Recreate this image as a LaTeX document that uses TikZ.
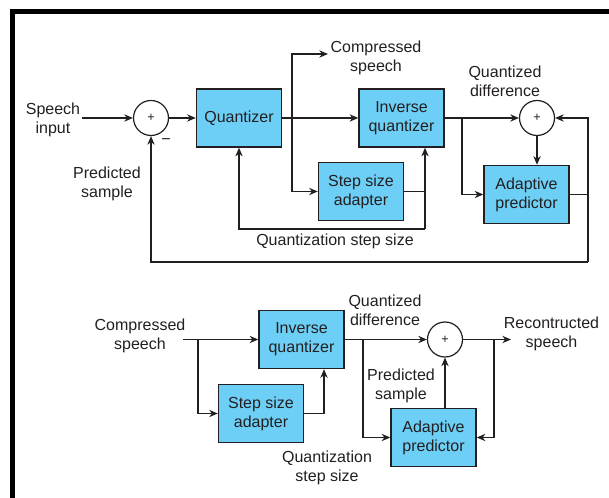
\documentclass[tikz,border=0pt]{standalone}
\usepackage{fontspec}
\setmainfont{Liberation Sans}
\usetikzlibrary{arrows.meta, positioning}
\definecolor{boxblue}{RGB}{110,207,246}
\definecolor{inkgray}{RGB}{35,31,32}

\begin{document}
\begin{tikzpicture}[x=0.75pt, y=-0.75pt,
		block/.style={draw=inkgray, fill=boxblue, line width=1.1pt,
			minimum width=63.75pt, minimum height=43.5pt, align=center, inner sep=0pt},
		adder/.style={draw=inkgray, circle, line width=0.9pt, minimum size=26.25pt,
			inner sep=0pt, font=\fontsize{9.5}{10}\selectfont},
		lbl/.style={align=center, inner sep=1.5pt, yshift=-1.2pt},
		arrow/.style={-{Stealth[length=6.5pt, width=5.5pt]}, line width=0.9pt, draw=inkgray},
		wire/.style={line width=0.9pt, draw=inkgray},
		font=\fontsize{12}{14.4}\selectfont, text=inkgray
	]
		\useasboundingbox (0,0) rectangle (609,498);
		\draw[line width=3.75pt, black] (12.5,498) -- (12.5,11.5) -- (609,11.5);

		% encoder
		\node[lbl] (spin) at (53,118) {Speech\\input};
		\node[adder] (sum1) at (151,118) {+};
		\node[block] (quant) at (239,118) {Quantizer};
		\node[block] (invq) at (401.5,118) {Inverse\\quantizer};
		\node[block] (ssa) at (361,191.5) {Step size\\adapter};
		\node[adder] (sum2) at (537,118) {+};
		\node[block] (pred) at (526.5,194.5) {Adaptive\\predictor};

		\node[lbl] (cs) at (376,56.5) {Compressed\\speech};
		\node[lbl] (qd) at (505,80) {Quantized\\difference};
		\node[lbl] (ps) at (107,182) {Predicted\\sample};
		\node[lbl] (qss) at (335,240) {Quantization step size};
		\node[lbl] (minus) at (166,140) {−};

		\coordinate (b1) at (292,118);
		\coordinate (csout) at (328,54);
		\coordinate (qs) at (425,229);
		\coordinate (b2) at (462,118);
		\coordinate (fb) at (588,262);

		\draw[arrow] (spin.east |- sum1) -- (sum1);
		\draw[arrow] (sum1) -- (quant);
		\draw[arrow] (quant) -- (invq);
		\draw[arrow] (b1) |- (csout);
		\draw[arrow] (b1) |- (ssa);
		\draw[wire] (ssa) -- (ssa -| qs);
		\draw[arrow] (qs) -- (qs |- invq.south);
		\draw[arrow] (qs) -| (quant);
		\draw[arrow] (invq) -- (sum2);
		\draw[arrow] (b2) |- (pred);
		\draw[arrow] (sum2) -- (sum2 |- pred.north);
		\draw[wire] (pred) -- (pred -| fb);
		\draw[arrow] (fb) |- (sum2);
		\draw[arrow] (fb) -| (sum1);

		% decoder
		\node[lbl] (cs2) at (140,334.5) {Compressed\\speech};
		\node[block] (invq2) at (301.5,339.5) {Inverse\\quantizer};
		\node[block] (ssa2) at (261,413.5) {Step size\\adapter};
		\node[adder] (sum3) at (445,339.5) {+};
		\node[block] (pred2) at (433.5,437.5) {Adaptive\\predictor};

		\node[lbl] (qss2) at (327,466) {Quantization\\step size};
		\node[lbl] (qd2) at (385,308.5) {Quantized\\difference};
		\node[lbl] (ps2) at (401,384.5) {Predicted\\sample};
		\node[lbl] (rs) at (551.5,332.5) {Recontructed\\speech};

		\coordinate (in2) at (183,339.5);
		\coordinate (b3) at (198,339.5);
		\coordinate (qs2) at (324,413.5);
		\coordinate (b4) at (363,339.5);
		\coordinate (b5) at (494,339.5);
		\coordinate (out) at (511,339.5);

		\draw[arrow] (in2) -- (invq2);
		\draw[arrow] (b3) |- (ssa2);
		\draw[wire] (ssa2) -- (qs2);
		\draw[arrow] (qs2) -- (qs2 |- invq2.south);
		\draw[arrow] (invq2) -- (sum3);
		\draw[arrow] (b4) |- (pred2);
		\draw[arrow] (pred2.north -| sum3) -- (sum3);
		\draw[arrow] (sum3) -- (out);
		\draw[arrow] (b5) |- (pred2);
	\end{tikzpicture}
\end{document}
